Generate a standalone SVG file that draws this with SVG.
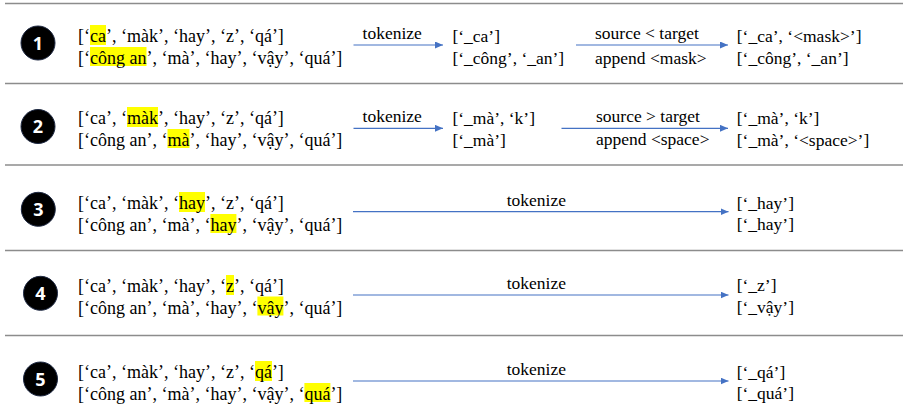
<svg xmlns="http://www.w3.org/2000/svg" width="903" height="420" viewBox="0 0 903 420">
<defs>
<style>
.bg{fill:#ffffff}
.sep{stroke:#8c8c8c;stroke-width:1.5;fill:none}
.badge{fill:#000000;stroke:#1f2a44;stroke-width:1}
.num{font-family:"Open Sans","Liberation Sans",sans-serif;font-weight:bold;font-size:18px;fill:#ffffff;text-anchor:middle}
.big{font-family:"Liberation Serif","Times New Roman",serif;font-size:18px;fill:#000000}
.sm{font-family:"Liberation Serif","Times New Roman",serif;font-size:17.5px;fill:#000000}
.hl{fill:#ffff00}
.conn{stroke:#4472c4;stroke-width:1.2;fill:none;marker-end:url(#ah)}
</style>
<marker id="ah" markerWidth="8" markerHeight="7" refX="8" refY="3.5" orient="auto" markerUnits="userSpaceOnUse">
<path d="M0,0 L8,3.5 L0,7 z" fill="#4472c4"/>
</marker>
</defs>
<rect class="bg" x="0" y="0" width="903" height="420"/>
<g id="separators">
<line class="sep" x1="5" y1="3.5" x2="903" y2="3.5"/>
<line class="sep" x1="5" y1="83.5" x2="903" y2="83.5"/>
<line class="sep" x1="5" y1="165" x2="903" y2="165"/>
<line class="sep" x1="5" y1="250.5" x2="903" y2="250.5"/>
<line class="sep" x1="5" y1="335.5" x2="903" y2="335.5"/>
</g>
<g id="connectors">
<line class="conn" x1="353.5" y1="45" x2="443" y2="45"/>
<line class="conn" x1="576" y1="45" x2="728" y2="45"/>
<line class="conn" x1="353.5" y1="128.3" x2="443" y2="128.3"/>
<line class="conn" x1="561.5" y1="128.3" x2="728" y2="128.3"/>
<line class="conn" x1="353" y1="211.7" x2="728.5" y2="211.7"/>
<line class="conn" x1="353" y1="295" x2="728.5" y2="295"/>
<line class="conn" x1="353" y1="381" x2="728.5" y2="381"/>
</g>
<g id="row1">
<g id="badge1"><circle class="badge" cx="38" cy="43" r="17"/><text class="num" x="38" y="49.5">1</text></g>
<g id="src1">
<rect class="hl" x="90" y="25" width="16" height="20"/>
<rect class="hl" x="90" y="47" width="56.5" height="19"/>
<text class="big" x="78" y="42">[‘ca’, ‘màk’, ‘hay’, ‘z’, ‘qá’]</text>
<text class="big" x="78" y="64">[‘công an’, ‘mà’, ‘hay’, ‘vậy’, ‘quá’]</text>
</g>
<text class="sm" x="362.6" y="39">tokenize</text>
<g id="tok1">
<text class="sm" x="452.4" y="42">[‘_ca’]</text>
<text class="sm" x="452.4" y="63.5">[‘_công’, ‘_an’]</text>
</g>
<text class="sm" x="595" y="39">source &lt; target</text>
<text class="sm" x="595" y="63.5">append &lt;mask&gt;</text>
<g id="out1">
<text class="sm" x="736.8" y="42">[‘_ca’, ‘&lt;mask&gt;’]</text>
<text class="sm" x="736.8" y="63.5">[‘_công’, ‘_an’]</text>
</g>
</g>
<g id="row2">
<g id="badge2"><circle class="badge" cx="38" cy="126.5" r="17"/><text class="num" x="38" y="133">2</text></g>
<g id="src2">
<rect class="hl" x="127" y="107" width="31" height="20"/>
<rect class="hl" x="167.5" y="129" width="22" height="19"/>
<text class="big" x="78" y="124">[‘ca’, ‘màk’, ‘hay’, ‘z’, ‘qá’]</text>
<text class="big" x="78" y="146">[‘công an’, ‘mà’, ‘hay’, ‘vậy’, ‘quá’]</text>
</g>
<text class="sm" x="362.6" y="121.7">tokenize</text>
<g id="tok2">
<text class="sm" x="452.4" y="124">[‘_mà’, ‘k’]</text>
<text class="sm" x="452.4" y="145.5">[‘_mà’]</text>
</g>
<text class="sm" x="596" y="121.7">source &gt; target</text>
<text class="sm" x="596" y="145.3">append &lt;space&gt;</text>
<g id="out2">
<text class="sm" x="736.8" y="124">[‘_mà’, ‘k’]</text>
<text class="sm" x="736.8" y="145.5">[‘_mà’, ‘&lt;space&gt;’]</text>
</g>
</g>
<g id="row3">
<g id="badge3"><circle class="badge" cx="38.3" cy="209.3" r="17"/><text class="num" x="38.3" y="215.8">3</text></g>
<g id="src3">
<rect class="hl" x="179" y="192" width="26" height="20"/>
<rect class="hl" x="210.4" y="214" width="26" height="19"/>
<text class="big" x="78" y="209">[‘ca’, ‘màk’, ‘hay’, ‘z’, ‘qá’]</text>
<text class="big" x="78" y="231">[‘công an’, ‘mà’, ‘hay’, ‘vậy’, ‘quá’]</text>
</g>
<text class="sm" x="506.7" y="205.7">tokenize</text>
<g id="out3">
<text class="sm" x="736.7" y="208.5">[‘_hay’]</text>
<text class="sm" x="736.7" y="230">[‘_hay’]</text>
</g>
</g>
<g id="row4">
<g id="badge4"><circle class="badge" cx="40.5" cy="293.3" r="17"/><text class="num" x="40.5" y="299.8">4</text></g>
<g id="src4">
<rect class="hl" x="226" y="275" width="8" height="20"/>
<rect class="hl" x="257.4" y="296.5" width="26" height="19"/>
<text class="big" x="78" y="292">[‘ca’, ‘màk’, ‘hay’, ‘z’, ‘qá’]</text>
<text class="big" x="78" y="313.5">[‘công an’, ‘mà’, ‘hay’, ‘vậy’, ‘quá’]</text>
</g>
<text class="sm" x="506.7" y="289">tokenize</text>
<g id="out4">
<text class="sm" x="736.7" y="291">[‘_z’]</text>
<text class="sm" x="736.7" y="312.5">[‘_vậy’]</text>
</g>
</g>
<g id="row5">
<g id="badge5"><circle class="badge" cx="40.5" cy="379" r="17"/><text class="num" x="40.5" y="385.5">5</text></g>
<g id="src5">
<rect class="hl" x="255" y="361" width="17" height="20"/>
<rect class="hl" x="304.4" y="383" width="26" height="19"/>
<text class="big" x="78" y="378">[‘ca’, ‘màk’, ‘hay’, ‘z’, ‘qá’]</text>
<text class="big" x="78" y="400">[‘công an’, ‘mà’, ‘hay’, ‘vậy’, ‘quá’]</text>
</g>
<text class="sm" x="506.7" y="375">tokenize</text>
<g id="out5">
<text class="sm" x="736.7" y="377.5">[‘_qá’]</text>
<text class="sm" x="736.7" y="399">[‘_quá’]</text>
</g>
</g>
</svg>
